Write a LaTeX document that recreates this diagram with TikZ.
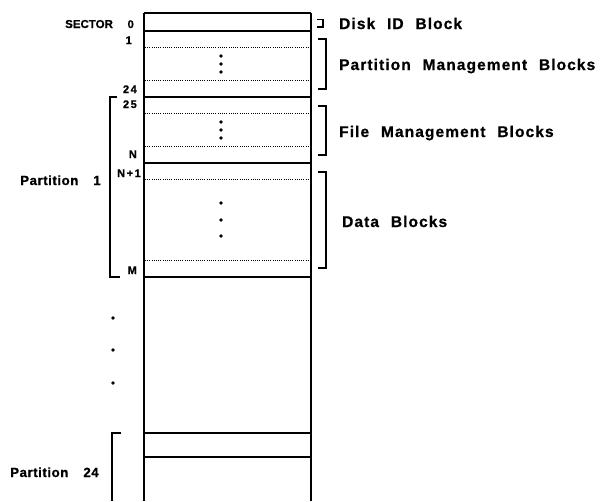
\documentclass[tikz,border=0pt]{standalone}
\usepackage{fontspec}
\setmainfont{Liberation Sans}
\newfontfamily\labfont{Liberation Sans}[UprightFont={* Bold},LetterSpace=7,WordSpace=2.2,FakeBold=0.8]
\newfontfamily\leftfont{Liberation Sans}[UprightFont={* Bold},LetterSpace=4,WordSpace=2,FakeBold=0.8]
\newfontfamily\numfont{Liberation Sans}[UprightFont={* Bold},LetterSpace=14,FakeBold=0.8]
\newfontfamily\secfont{Liberation Sans}[UprightFont={* Bold},FakeBold=0.8]
\begin{document}
\begin{tikzpicture}[x=1pt,y=-1pt,
  thickln/.style={line width=2pt},
  wall/.style={line width=1.8pt},
  dotln/.style={line width=0.9pt,dash pattern=on 0.9pt off 1.3pt},
  brk/.style={line width=1.6pt},
  rlab/.style={anchor=base west,inner sep=0pt,font=\fontsize{15.5}{18}\labfont},
  llab/.style={anchor=base west,inner sep=0pt,font=\fontsize{13.3}{15}\leftfont},
  num/.style={anchor=base east,inner sep=0pt,font=\fontsize{11}{13}\numfont},
  dotc/.style={fill=black,circle,inner sep=0pt,minimum size=3.8pt}]
\useasboundingbox (0,0) rectangle (600,501);
% column
\draw[wall] (144,13) -- (144,501);
\draw[wall] (311,13) -- (311,501);
\foreach \y in {13,31,97,163,277,433,457}
  \draw[thickln] (144,\y) -- (311,\y);
\foreach \y in {47,80,113,146,179,260}
  \draw[dotln] (145,\y) -- (310,\y);
% dots in column
\foreach \y in {56,64,72,122,130,138,203,220,236}
  \node[dotc] at (221,\y) {};
% left dots
\foreach \y in {318,350,383}
  \node[dotc] at (113,\y) {};
% left labels
\node[anchor=base west,inner sep=0pt,font=\fontsize{11.5}{13}\secfont] (sector) at (65,28) {SECTOR};
\node[num] (s0) at (134,28) {0};
\node[num] (s1) at (132,44) {1};
\node[num] (s24) at (137,93) {24};
\node[num] (s25) at (137,108) {25};
\node[num] (sN) at (137,158) {N};
\node[num] (sN1) at (141,177) {N+1};
\node[num] (sM) at (137,274) {M};
\node[llab] (p1) at (20,185) {Partition\hspace{15pt}1};
\node[llab] (p24) at (10,477) {Partition\hspace{15pt}24};
% left brackets
\draw[brk] (117,97) -- (110,97) -- (110,277) -- (120,277);
\draw[brk] (121,433) -- (112,433) -- (112,501);
% right brackets
\draw[brk] (317,19.5) -- (323,19.5) -- (323,27) -- (317,27);
\draw[brk] (318,39) -- (326,39) -- (326,89) -- (318,89);
\draw[brk] (318,106) -- (326,106) -- (326,155) -- (318,155);
\draw[brk] (318,172) -- (326,172) -- (326,268) -- (318,268);
% right labels
\node[rlab] (did) at (339,29) {Disk ID Block};
\node[rlab] (pmb) at (339,70) {Partition Management Blocks};
\node[rlab] (fmb) at (339,137) {File Management Blocks};
\node[rlab] (db) at (342,227) {Data Blocks};
\end{tikzpicture}
\end{document}
